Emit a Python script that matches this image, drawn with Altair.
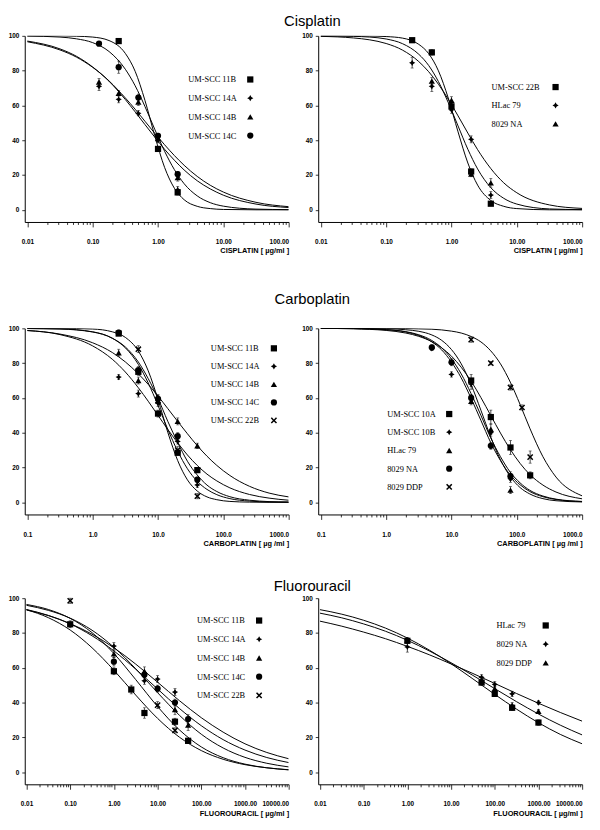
import math
import altair as alt
import pandas as pd

# ---------------- values ----------------
# Row 1 - Cisplatin, left panel
CIS_A_NAMES = ["UM-SCC 11B", "UM-SCC 14A", "UM-SCC 14B", "UM-SCC 14C"]
CIS_A_DOSE = [[0.25, 1, 2], [0.125, 0.25, 0.5, 1, 2], [0.125, 0.25, 0.5, 1, 2], [0.125, 0.25, 0.5, 1, 2]]
CIS_A_VALUE = [[97, 35, 10], [71, 63.5, 55.5, 40, 11.5], [73.5, 67, 62, 41, 18.5], [95.5, 82, 64.5, 42.5, 20.5]]
CIS_A_ERR = [[1.5, 1, 1.5], [2.5, 2, 1.5, 1.5, 2], [2, 1.5, 2, 1.5, 2], [1, 3.5, 2, 1.5, 1.5]]
CIS_CURVE_DOSE = [0.01, 0.0316, 0.0562, 0.1, 0.178, 0.316, 0.447, 0.631, 0.891, 1.26, 1.78, 2.51, 3.98, 6.31, 10, 31.6, 100]
CIS_A_CURVE = [
    [100, 100, 99.8, 99.3, 97.3, 89.9, 79.6, 62.9, 42.6, 24.4, 12.4, 5.8, 2.0, 0.7, 0.2, 0.0, 0.0],
    [97.0, 92.5, 88.3, 82.1, 73.9, 63.4, 56.3, 49.0, 41.8, 34.8, 28.5, 22.9, 16.7, 12.0, 8.4, 3.3, 1.3],
    [96.6, 91.9, 87.8, 81.9, 74.1, 64.3, 57.8, 50.9, 44.0, 37.4, 31.2, 25.6, 19.2, 14.1, 10.2, 4.3, 1.8],
    [99.9, 99.3, 98.3, 96.1, 91.0, 80.8, 71.3, 59.4, 46.3, 33.7, 23.1, 15.0, 8.0, 4.1, 2.1, 0.4, 0.1],
]

# Row 1 - Cisplatin, right panel
CIS_B_NAMES = ["UM-SCC 22B", "HLac 79", "8029 NA"]
CIS_B_DOSE = [[0.25, 0.5, 1, 2, 4], [0.25, 0.5, 1, 2, 4], [0.5, 1, 2, 4]]
CIS_B_VALUE = [[97.5, 90.5, 59.5, 22, 3.5], [84.5, 71, 57.5, 40.5, 8.5], [74, 63, 20.5, 15.5]]
CIS_B_ERR = [[1, 1.5, 2, 1.5, 1], [3, 3, 2, 2, 2], [2, 2, 1.5, 2.5]]
CIS_B_CURVE = [
    [100, 100, 99.9, 99.6, 98.7, 95.1, 89.8, 79.9, 64.3, 44.8, 26.9, 14.2, 5.4, 2.0, 0.7, 0.0, 0.0],
    [99.7, 98.8, 97.7, 95.6, 91.8, 85.2, 79.4, 72.2, 63.6, 54.0, 44.1, 34.6, 23.8, 15.5, 9.8, 2.8, 0.8],
    [100, 99.7, 99.3, 98.2, 95.5, 89.4, 83.0, 73.7, 61.7, 48.2, 34.8, 23.5, 12.8, 6.6, 3.3, 0.5, 0.1],
]

# Row 2 - Carboplatin, left panel
CAR_A_NAMES = ["UM-SCC 11B", "UM-SCC 14A", "UM-SCC 14B", "UM-SCC 14C", "UM-SCC 22B"]
CAR_A_DOSE = [[2.5, 5, 10, 20, 40], [2.5, 5, 10, 20, 40], [2.5, 5, 10, 20, 40], [2.5, 5, 10, 20, 40], [5, 10, 20, 40]]
CAR_A_VALUE = [[97, 75, 51, 28.5, 18.5], [72, 62.5, 57, 35, 10], [86, 70, 60, 46.5, 32.5],
               [97.5, 76, 59.5, 38, 13], [88, 58.5, 30, 3.5]]
CAR_A_ERR = [[1, 2, 2, 1.5, 1.5], [1.5, 2, 2, 1.5, 1.5], [2, 2, 2, 2, 1.5], [1.5, 2, 2, 2, 1.5], [2, 2, 2, 1.5]]
CAR_A_CURVE_DOSE = [0.1, 0.316, 1, 2, 3.16, 5.01, 7.08, 10, 14.1, 20, 28.2, 39.8, 56.2, 79.4, 126, 251, 501, 1000]
CAR_A_CURVE = [
    [99.9, 99.7, 98.0, 94.3, 88.8, 79.2, 68.6, 55.7, 42.0, 29.4, 19.3, 12.1, 7.4, 4.4, 2.1, 0.7, 0.2, 0.1],
    [98.8, 96.4, 89.9, 82.2, 74.9, 65.8, 58.1, 50.0, 41.9, 34.2, 27.2, 21.2, 16.2, 12.3, 8.3, 4.5, 2.4, 1.2],
    [98.7, 96.7, 91.7, 86.1, 80.7, 73.8, 67.8, 61.1, 53.9, 46.5, 39.4, 32.6, 26.5, 21.2, 15.4, 9.2, 5.3, 3.1],
    [99.9, 99.6, 97.9, 94.3, 89.3, 80.6, 71.1, 59.7, 46.6, 34.4, 23.6, 15.7, 9.9, 6.2, 3.2, 1.2, 0.4, 0.1],
    [100, 100, 99.6, 98.0, 94.8, 86.9, 75.6, 59.1, 40.3, 24.0, 12.9, 6.5, 3.1, 1.5, 0.5, 0.1, 0.0, 0.0],
]

# Row 2 - Carboplatin, right panel
CAR_B_NAMES = ["UM-SCC 10A", "UM-SCC 10B", "HLac 79", "8029 NA", "8029 DDP"]
CAR_B_DOSE = [[20, 40, 80, 160], [5, 10, 20, 40, 80], [20, 40, 80], [5, 10, 20, 40, 80], [20, 40, 80, 120, 160]]
CAR_B_VALUE = [[70, 49, 31.5, 15.5], [88.5, 73.5, 68, 40, 13.5], [58, 42, 7],
               [89, 80.5, 60, 32.5, 15], [93.5, 80, 66, 54.5, 26]]
CAR_B_ERR = [[3.5, 4, 4, 2], [1, 1.5, 3, 2, 2], [2, 3, 2], [1.5, 2, 2, 2, 2.5], [1.5, 1, 1.5, 1.5, 3.5]]
CAR_B_CURVE_DOSE = [0.1, 0.316, 1, 2, 3.16, 5.01, 7.08, 10, 14.1, 20, 28.2, 39.8, 56.2, 79.4, 112, 158, 251, 398, 1000]
CAR_B_CURVE = [
    [100, 99.7, 98.8, 97.3, 95.4, 92.3, 88.8, 84.0, 77.6, 69.6, 60.2, 50.0, 39.8, 30.4, 22.4, 16.0, 9.9, 5.9, 2.0],
    [100, 99.9, 99.3, 98.1, 96.3, 93.0, 88.8, 82.4, 73.8, 62.4, 50.0, 37.1, 26.2, 17.3, 11.2, 6.9, 3.6, 1.8, 0.5],
    [100, 100, 99.8, 99.2, 98.3, 96.2, 93.1, 87.8, 79.6, 67.6, 52.9, 37.6, 24.4, 14.8, 8.5, 4.8, 2.1, 0.9, 0.2],
    [100, 99.9, 99.2, 97.9, 95.9, 92.2, 87.6, 80.6, 71.5, 59.7, 47.1, 34.4, 24.0, 15.7, 10.1, 6.2, 3.2, 1.6, 0.4],
    [100, 100, 100, 99.9, 99.7, 99.5, 99.1, 98.4, 97.3, 95.3, 92.2, 87.1, 79.6, 69.1, 56.3, 42.6, 26.2, 14.5, 3.7],
]

# Row 3 - Fluorouracil, left panel
FLU_A_NAMES = ["UM-SCC 11B", "UM-SCC 14A", "UM-SCC 14B", "UM-SCC 14C", "UM-SCC 22B"]
FLU_A_DOSE = [[0.1, 1, 2.5, 5, 25, 50], [1, 5, 10, 25], [1, 5, 25, 50], [1, 5, 10, 25, 50], [0.1, 10, 25, 50]]
FLU_A_VALUE = [[85, 58, 47.5, 34, 29, 18], [72.5, 52.5, 53.5, 46], [68, 58, 36, 27],
               [63.5, 56, 48, 40, 30.5], [98.5, 38.5, 24, 18]]
FLU_A_ERR = [[2, 2, 2.5, 3, 2, 1.5], [2, 2, 2, 2], [2, 2.5, 3, 3], [2.5, 2, 2, 2, 2.5], [1.5, 2, 1.5, 1.5]]
FLU_CURVE_DOSE = [0.01, 0.0316, 0.1, 0.316, 1, 3.16, 10, 31.6, 100, 316, 1000, 3162, 10000]
FLU_A_CURVE = [
    [93.4, 88.8, 81.7, 71.5, 58.6, 44.3, 30.9, 20.1, 12.4, 7.4, 4.3, 2.5, 1.4],
    [93.2, 90.0, 85.4, 79.3, 71.5, 62.1, 51.7, 41.1, 31.3, 23.0, 16.3, 11.3, 7.7],
    [95.9, 93.0, 88.5, 81.6, 71.8, 59.4, 45.7, 32.7, 21.8, 13.9, 8.5, 5.1, 3.0],
    [93.5, 90.1, 85.2, 78.4, 69.7, 59.2, 47.8, 36.6, 26.7, 18.7, 12.7, 8.4, 5.5],
    [96.4, 93.5, 88.4, 80.2, 68.2, 53.2, 37.7, 24.3, 14.5, 8.3, 4.6, 2.5, 1.3],
]

# Row 3 - Fluorouracil, right panel
FLU_B_NAMES = ["HLac 79", "8029 NA", "8029 DDP"]
FLU_B_DOSE = [[1, 50, 100, 250, 1000], [1, 50, 100, 250, 1000], [1, 50, 100, 250, 1000]]
FLU_B_VALUE = [[75.5, 51.5, 45, 37, 28.5], [72, 54.5, 50.5, 45, 40], [76, 53, 48, 38.5, 35]]
FLU_B_ERR = [[1.5, 1.5, 1.5, 1.5, 1.5], [3, 1.5, 1.5, 1.5, 1], [1.5, 1.5, 1.5, 1.5, 1]]
FLU_B_CURVE = [
    [93.4, 90.8, 87.3, 82.8, 77.1, 70.2, 62.3, 53.6, 44.7, 36.2, 28.4, 21.7, 16.3],
    [86.8, 83.9, 80.5, 76.7, 72.3, 67.5, 62.2, 56.7, 51.0, 45.2, 39.6, 34.3, 29.3],
    [91.4, 88.7, 85.2, 81.0, 75.8, 69.7, 62.9, 55.6, 48.0, 40.5, 33.4, 27.0, 21.4],
]

SECTION_TITLES = ["Cisplatin", "Carboplatin", "Fluorouracil"]
X_TITLES = ["CISPLATIN [ µg/ml ]", "CARBOPLATIN [ µg /ml ]", "FLUOROURACIL [ µg/ml ]"]

# ---------------- marker shapes (style) ----------------
def _x_path(w=0.2):
    pts = [(-w, -1), (w, -1), (w, -w), (1, -w), (1, w), (w, w), (w, 1), (-w, 1),
           (-w, w), (-1, w), (-1, -w), (-w, -w)]
    s = math.sqrt(2) / (1 + w)
    rot = [((x - y) / math.sqrt(2) * s, (x + y) / math.sqrt(2) * s) for x, y in pts]
    return "M" + "L".join(f"{x:.3f},{y:.3f}" for x, y in rot) + "Z"

SQUARE = "square"
STAR = "M0,-1L0.36,-0.36L1,0L0.36,0.36L0,1L-0.36,0.36L-1,0L-0.36,-0.36Z"
TRI = "triangle-up"
CIRC = "circle"
XMARK = _x_path()

W, H = 268, 189
MSIZE = 40
AXIS_FONT = "Liberation Sans Narrow, Arial Narrow, Liberation Sans, sans-serif"
MAJOR = "abs(log(datum.value)/LN10 - round(log(datum.value)/LN10)) < 0.001"
NO_FRAME = alt.ViewBackground(stroke="transparent", strokeWidth=0, fill="transparent")


def panel(names, shapes, dose, value, err, cdose, curves, dom, fmt, xtitle, leg):
    lo, hi = dom
    rows, caps = [], []
    for n, ds, vs, es in zip(names, dose, value, err):
        for d, v, e in zip(ds, vs, es):
            rows.append({"series": n, "dose": d, "value": v, "lo": v - e, "hi": v + e})
            caps.append({"series": n, "dose": d, "value": v - e})
            caps.append({"series": n, "dose": d, "value": v + e})
    pdf = pd.DataFrame(rows)
    capdf = pd.DataFrame(caps)
    cdf = pd.DataFrame([{"series": n, "dose": d, "value": v}
                        for n, cv in zip(names, curves) for d, v in zip(cdose, cv)])

    k0, k1 = round(math.log10(lo)), round(math.log10(hi))
    ticks = [m * 10.0 ** k for k in range(k0, k1) for m in range(1, 10)] + [hi]
    dmin = 10 ** (math.log10(lo) - 0.04)

    xax = alt.Axis(values=ticks, labelExpr=f"{MAJOR} ? format(datum.value, '{fmt}') : ''",
                   tickSize={"condition": {"test": MAJOR, "value": 5}, "value": 2.5},
                   labelFlush=1, labelOverlap=False, labelPadding=12, labelFontSize=6.5,
                   labelFontWeight="bold", labelFont=AXIS_FONT, title=xtitle, titleAnchor="end",
                   titleFont=AXIS_FONT, titleFontSize=7.5, titleFontWeight="bold", titlePadding=2,
                   grid=False, domainColor="black", tickColor="black", labelColor="black",
                   titleColor="black", tickWidth=0.8)
    yax = alt.Axis(values=[0, 20, 40, 60, 80, 100], format="d", tickSize=3, labelPadding=3,
                   labelFontSize=6.5, labelFontWeight="bold", labelFont=AXIS_FONT, title=None,
                   grid=False, domainColor="black", tickColor="black", labelColor="black",
                   tickWidth=0.8)
    xs = alt.Scale(type="log", domain=[dmin, hi], nice=False)
    ys = alt.Scale(domain=[-7, 100], nice=False, zero=False)
    X = alt.X("dose:Q", scale=xs, axis=xax)

    lines = alt.Chart(cdf).mark_line(color="black", strokeWidth=1, interpolate="monotone", clip=True).encode(
        x=X, y=alt.Y("value:Q", scale=ys, axis=yax), detail="series:N")
    bars = alt.Chart(pdf).mark_rule(color="black", strokeWidth=0.7).encode(
        x=X, y=alt.Y("lo:Q", scale=ys, axis=yax), y2="hi:Q")
    capm = alt.Chart(capdf).mark_tick(color="black", orient="horizontal", size=3, thickness=0.7).encode(
        x=X, y=alt.Y("value:Q", scale=ys, axis=yax))
    pts = alt.Chart(pdf).mark_point(filled=True, color="black", opacity=1, size=MSIZE, strokeWidth=0).encode(
        x=X, y=alt.Y("value:Q", scale=ys, axis=yax),
        shape=alt.Shape("series:N", scale=alt.Scale(domain=names, range=shapes), legend=None))

    # hand-drawn key: label text on the left, marker to its right
    tx, sx, y0, dy = leg
    key = []
    for i, (n, s) in enumerate(zip(names, shapes)):
        kd = pd.DataFrame({"series": [n]})
        key.append(alt.Chart(kd).mark_text(align="left", baseline="middle", font="Liberation Serif",
                                           fontSize=8.5, color="black").encode(
            x=alt.value(tx), y=alt.value(y0 + i * dy), text="series:N"))
        key.append(alt.Chart(kd).mark_point(filled=True, shape=s, size=MSIZE, color="black", opacity=1,
                                            strokeWidth=0).encode(
            x=alt.value(sx), y=alt.value(y0 + i * dy)))
    return alt.layer(lines, bars, capm, pts, *key).properties(width=W, height=H, view=NO_FRAME)


def heading(text, height, top):
    return alt.Chart(pd.DataFrame({"t": [text]})).mark_text(
        font="Liberation Sans", fontSize=15, align="center", baseline="top", color="black"
    ).encode(x=alt.value(292), y=alt.value(top), text="t:N").properties(
        width=576, height=height, view=NO_FRAME)


p1 = panel(CIS_A_NAMES, [SQUARE, STAR, TRI, CIRC], CIS_A_DOSE, CIS_A_VALUE, CIS_A_ERR,
           CIS_CURVE_DOSE, CIS_A_CURVE, (0.01, 100), ".2f", X_TITLES[0], (166, 229, 44.3, 19))
p2 = panel(CIS_B_NAMES, [SQUARE, STAR, TRI], CIS_B_DOSE, CIS_B_VALUE, CIS_B_ERR,
           CIS_CURVE_DOSE, CIS_B_CURVE, (0.01, 100), ".2f", X_TITLES[0], (176, 241, 52, 18.7))
p3 = panel(CAR_A_NAMES, [SQUARE, STAR, TRI, CIRC, XMARK], CAR_A_DOSE, CAR_A_VALUE, CAR_A_ERR,
           CAR_A_CURVE_DOSE, CAR_A_CURVE, (0.1, 1000), ".1f", X_TITLES[1], (189, 253, 20.3, 18.3))
p4 = panel(CAR_B_NAMES, [SQUARE, STAR, TRI, CIRC, XMARK], CAR_B_DOSE, CAR_B_VALUE, CAR_B_ERR,
           CAR_B_CURVE_DOSE, CAR_B_CURVE, (0.1, 1000), ".1f", X_TITLES[1], (70, 133, 87, 18.5))
p5 = panel(FLU_A_NAMES, [SQUARE, STAR, TRI, CIRC, XMARK], FLU_A_DOSE, FLU_A_VALUE, FLU_A_ERR,
           FLU_CURVE_DOSE, FLU_A_CURVE, (0.01, 10000), ".2f", X_TITLES[2], (175, 238, 22.7, 19))
p6 = panel(FLU_B_NAMES, [SQUARE, STAR, TRI], FLU_B_DOSE, FLU_B_VALUE, FLU_B_ERR,
           FLU_CURVE_DOSE, FLU_B_CURVE, (0.01, 10000), ".2f", X_TITLES[2], (181, 231, 27.7, 19))


def row(a, b):
    return alt.hconcat(a, b, spacing=12).resolve_scale(x="independent", y="independent",
                                                       shape="independent")


chart = (alt.vconcat(heading(SECTION_TITLES[0], 18.5, 0), row(p1, p2),
                     heading(SECTION_TITLES[1], 71.5, 38), row(p3, p4),
                     heading(SECTION_TITLES[2], 49, 33), row(p5, p6), spacing=0)
         .resolve_scale(x="independent", y="independent", shape="independent")
         .properties(padding=0)
         .configure_view(strokeWidth=0, stroke="transparent")
         .configure(background="white"))

chart.save("out.html", embed_options={"renderer": "svg", "actions": False})
